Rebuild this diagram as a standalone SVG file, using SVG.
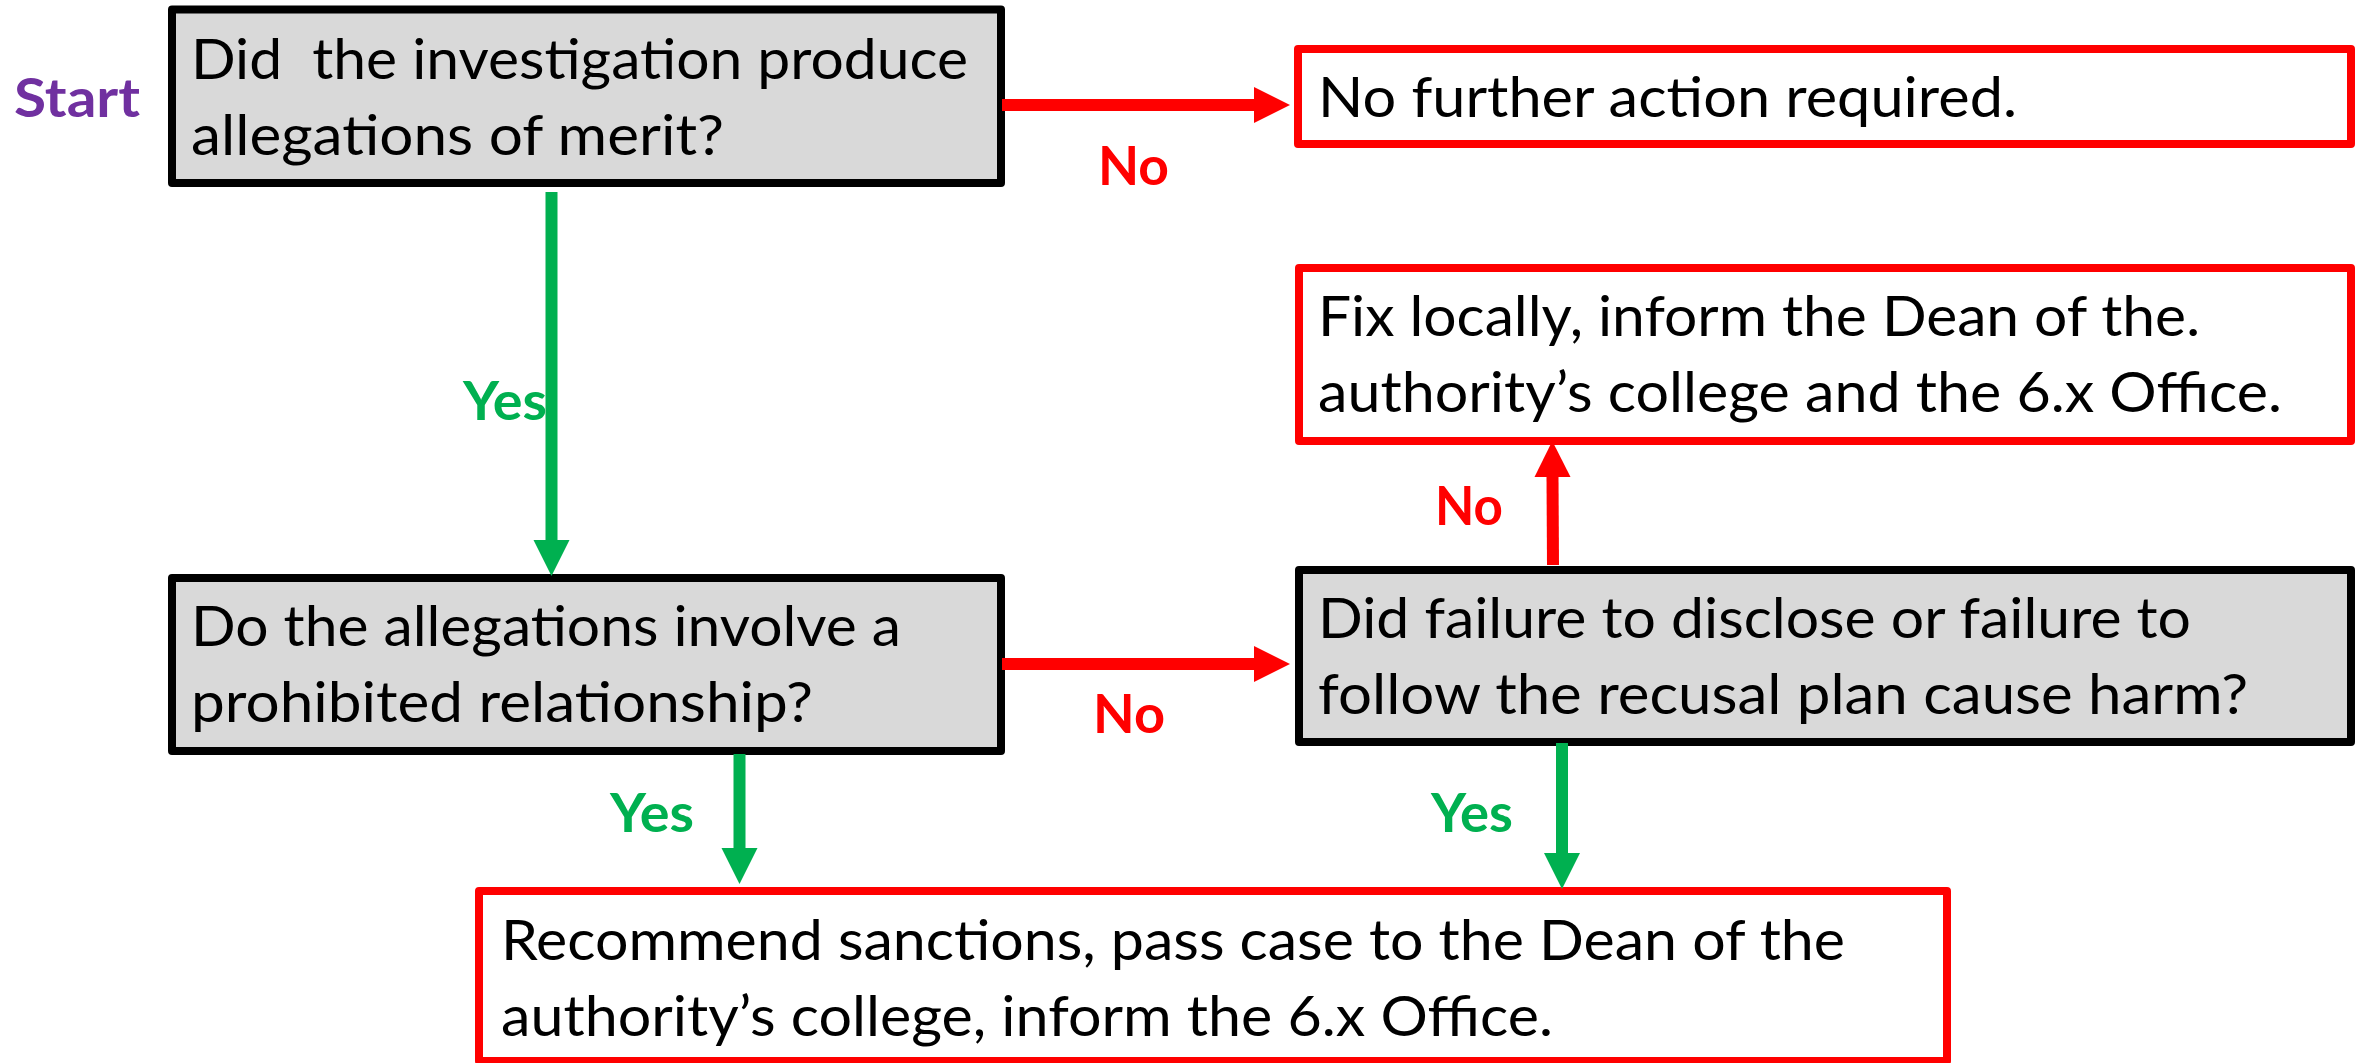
<svg xmlns="http://www.w3.org/2000/svg" width="2359" height="1063" viewBox="0 0 2359 1063">
  <style>
    .q { fill: #D9D9D9; stroke: #000000; stroke-width: 8; stroke-linejoin: round; }
    .a { fill: #FFFFFF; stroke: #FF0000; stroke-width: 8; stroke-linejoin: round; }
    .t { font-family: Lato, "Open Sans", "Liberation Sans", sans-serif; font-size: 56px; fill: #000000; }
    .lbl { font-family: Lato, "Open Sans", "Liberation Sans", sans-serif; font-size: 54px; font-weight: bold; }
    .red { fill: #FF0000; }
    .grn { fill: #00B050; }
    .sr { stroke: #FF0000; stroke-width: 12; fill: none; }
    .sg { stroke: #00B050; stroke-width: 12; fill: none; }
  </style>
  <defs>
    <marker id="hr" markerUnits="userSpaceOnUse" markerWidth="37" markerHeight="36" refX="1" refY="18" orient="auto" overflow="visible">
      <path d="M0,0 L36,18 L0,36 Z" fill="#FF0000"/>
    </marker>
    <marker id="hg" markerUnits="userSpaceOnUse" markerWidth="37" markerHeight="36" refX="1" refY="18" orient="auto" overflow="visible">
      <path d="M0,0 L36,18 L0,36 Z" fill="#00B050"/>
    </marker>
  </defs>
  <rect width="2359" height="1063" fill="#FFFFFF"/>

  <g id="start">
    <text class="lbl" x="14" y="117" textLength="126" lengthAdjust="spacingAndGlyphs" fill="#7030A0">Start</text>
  </g>

  <g id="q1">
    <rect class="q" x="172" y="9.5" width="829" height="173.5"/>
    <text class="t" x="191" y="79" textLength="777" lengthAdjust="spacingAndGlyphs" xml:space="preserve">Did  the investigation produce</text>
    <text class="t" x="191" y="155" textLength="533" lengthAdjust="spacingAndGlyphs">allegations of merit?</text>
  </g>

  <g id="noaction">
    <rect class="a" x="1298" y="49" width="1053" height="95"/>
    <text class="t" x="1318" y="117" textLength="699" lengthAdjust="spacingAndGlyphs">No further action required.</text>
  </g>

  <g id="fixlocal">
    <rect class="a" x="1299" y="268" width="1052" height="173"/>
    <text class="t" x="1318" y="336" textLength="882" lengthAdjust="spacingAndGlyphs">Fix locally, inform the Dean of the.</text>
    <text class="t" x="1318" y="412" textLength="964" lengthAdjust="spacingAndGlyphs">authority’s college and the 6.x Office.</text>
  </g>

  <g id="q2">
    <rect class="q" x="172" y="578" width="829" height="173"/>
    <text class="t" x="191" y="646" textLength="710" lengthAdjust="spacingAndGlyphs">Do the allegations involve a</text>
    <text class="t" x="191" y="722" textLength="622" lengthAdjust="spacingAndGlyphs">prohibited relationship?</text>
  </g>

  <g id="q3">
    <rect class="q" x="1299" y="570" width="1052" height="172"/>
    <text class="t" x="1318" y="638" textLength="873" lengthAdjust="spacingAndGlyphs">Did failure to disclose or failure to</text>
    <text class="t" x="1318" y="714" textLength="930" lengthAdjust="spacingAndGlyphs">follow the recusal plan cause harm?</text>
  </g>

  <g id="sanctions">
    <rect class="a" x="479" y="891" width="1468" height="170"/>
    <text class="t" x="501" y="960" textLength="1344" lengthAdjust="spacingAndGlyphs">Recommend sanctions, pass case to the Dean of the</text>
    <text class="t" x="501" y="1036" textLength="1052" lengthAdjust="spacingAndGlyphs">authority’s college, inform the 6.x Office.</text>
  </g>

  <g id="connectors">
    <path class="sg" d="M551.5,192 L551.5,541" marker-end="url(#hg)"/>
    <path class="sr" d="M1002,105 L1255,105" marker-end="url(#hr)"/>
    <path class="sr" d="M1553,565 L1552.5,476" marker-end="url(#hr)"/>
    <path class="sr" d="M1002,664 L1255,664" marker-end="url(#hr)"/>
    <path class="sg" d="M739.5,754 L739.5,849" marker-end="url(#hg)"/>
    <path class="sg" d="M1562,743 L1562,854" marker-end="url(#hg)"/>
    <text class="lbl grn" x="463" y="420" textLength="84" lengthAdjust="spacingAndGlyphs">Yes</text>
    <text class="lbl red" x="1098" y="185" textLength="71" lengthAdjust="spacingAndGlyphs">No</text>
    <text class="lbl red" x="1435" y="525" textLength="68" lengthAdjust="spacingAndGlyphs">No</text>
    <text class="lbl red" x="1093" y="733" textLength="72" lengthAdjust="spacingAndGlyphs">No</text>
    <text class="lbl grn" x="610" y="832" textLength="84" lengthAdjust="spacingAndGlyphs">Yes</text>
    <text class="lbl grn" x="1431" y="832" textLength="82" lengthAdjust="spacingAndGlyphs">Yes</text>
  </g>
</svg>
